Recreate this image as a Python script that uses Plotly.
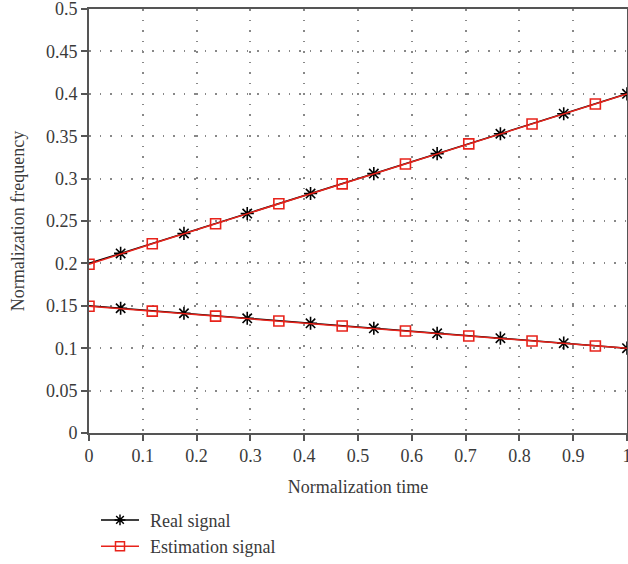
import plotly.graph_objects as go

t = [0.0, 0.0588, 0.1176, 0.1765, 0.2353, 0.2941, 0.3529, 0.4118, 0.4706,
     0.5294, 0.5882, 0.6471, 0.7059, 0.7647, 0.8235, 0.8824, 0.9412, 1.0]
real_upper = [0.2, 0.2118, 0.2235, 0.2353, 0.2471, 0.2588, 0.2706, 0.2824, 0.2941,
              0.3059, 0.3176, 0.3294, 0.3412, 0.3529, 0.3647, 0.3765, 0.3882, 0.4]
real_lower = [0.15, 0.1471, 0.1441, 0.1412, 0.1382, 0.1353, 0.1324, 0.1294, 0.1265,
              0.1235, 0.1206, 0.1176, 0.1147, 0.1118, 0.1088, 0.1059, 0.1029, 0.1]
est_upper = [0.199, 0.2115, 0.2232, 0.2350, 0.2468, 0.2586, 0.2703, 0.2822, 0.2938,
             0.3056, 0.3173, 0.3291, 0.3409, 0.3526, 0.3644, 0.3762, 0.3879, 0.3997]
est_lower = [0.1495, 0.1466, 0.1437, 0.1408, 0.1378, 0.1349, 0.1320, 0.1290, 0.1261,
             0.1232, 0.1202, 0.1173, 0.1144, 0.1114, 0.1085, 0.1056, 0.1026, 0.0998]

black_idx = [i for i in range(len(t)) if i % 2 == 1]
red_idx = [i for i in range(len(t)) if i % 2 == 0]

FONT = "Liberation Serif"
TXT = "#3a3a3a"
RED = "#e8231b"
fig = go.Figure()

def add_signal(y, idx, color, symbol, msize, name):
    fig.add_trace(go.Scatter(x=t, y=y, mode="lines", line=dict(color=color, width=1.5),
                             showlegend=False, legendgroup=name, hoverinfo="skip"))
    fig.add_trace(go.Scatter(x=[t[i] for i in idx], y=[y[i] for i in idx], mode="markers",
                             marker=dict(symbol=symbol, size=msize, color=color,
                                         line=dict(color=color, width=1.6)),
                             showlegend=False, legendgroup=name))

add_signal(real_upper, black_idx, "black", "asterisk-open", 11, "Real signal")
add_signal(real_lower, black_idx, "black", "asterisk-open", 11, "Real signal")
add_signal(est_upper, red_idx, RED, "square-open", 10, "Estimation signal")
add_signal(est_lower, red_idx, RED, "square-open", 10, "Estimation signal")

NB = "\u00a0\u200a"
fig.add_trace(go.Scatter(x=[None], y=[None], mode="lines+markers", name=NB + "Real signal",
                         line=dict(color="black", width=1.5),
                         marker=dict(symbol="asterisk-open", size=9, color="black",
                                     line=dict(color="black", width=1.5))))
fig.add_trace(go.Scatter(x=[None], y=[None], mode="lines+markers", name=NB + "Estimation signal",
                         line=dict(color=RED, width=1.5),
                         marker=dict(symbol="square-open", size=9, color=RED,
                                     line=dict(color=RED, width=1.5))))

axis_common = dict(showline=True, linecolor="#555", linewidth=1.6, mirror=True,
                   ticks="outside", ticklen=6, tickcolor="#555", tickwidth=1.5,
                   showgrid=True, gridcolor="#888", griddash="1.5px,9px", gridwidth=1.5,
                   zeroline=False, ticklabeloverflow="allow", automargin=True,
                   tickfont=dict(family=FONT, size=18, color=TXT))

fig.update_layout(
    width=628, height=564,
    margin=dict(l=89, r=1, t=9, b=131, autoexpand=False),
    paper_bgcolor="white", plot_bgcolor="white",
    font=dict(family=FONT, size=18, color=TXT),
    xaxis=dict(range=[0, 1], dtick=0.1, tickformat="~g",
               title=dict(text="Normalization time", font=dict(family=FONT, size=18, color=TXT), standoff=15),
               **axis_common),
    yaxis=dict(range=[0, 0.5], dtick=0.05, tickformat="~g",
               title=dict(text="Normalization frequency", font=dict(family=FONT, size=18, color=TXT), standoff=17),
               **axis_common),
    legend=dict(x=0.013, y=-0.162, xanchor="left", yanchor="top",
                font=dict(family=FONT, size=18, color=TXT),
                bgcolor="rgba(0,0,0,0)", itemwidth=38),
)

fig.write_html("out.html")
